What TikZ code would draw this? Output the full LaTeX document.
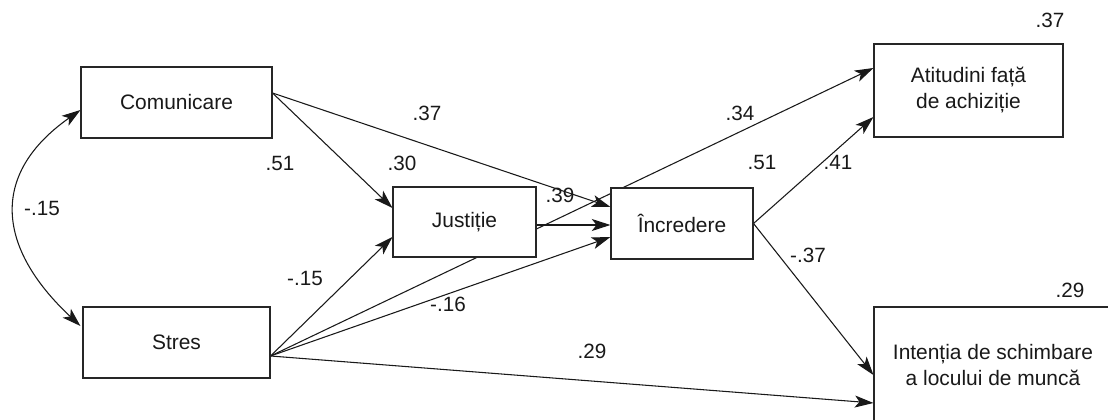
\documentclass[tikz,border=0pt]{standalone}
\usepackage{fontspec}
\setmainfont{Liberation Sans}
\usetikzlibrary{arrows.meta,calc,backgrounds}
\begin{document}
\begin{tikzpicture}[x=0.75pt,y=-0.75pt,
  box/.style={draw=black!85,line width=0.8pt,fill=white,inner sep=0pt,align=center,
    text=black!90,font=\fontsize{15.7}{19.5}\selectfont},
  lab/.style={inner sep=0pt,text=black!90,font=\fontsize{15.5}{18}\selectfont},
  tip/.style={Stealth[length=14pt,width=9pt,inset=3.5pt]},
  arr/.style={draw=black!90,line width=0.8pt,-{Stealth[length=14pt,width=9pt,inset=3.5pt]}},
  dbl/.style={draw=black!90,line width=0.8pt,{Stealth[length=14pt,width=9pt,inset=3.5pt]}-{Stealth[length=14pt,width=9pt,inset=3.5pt]}}]
\useasboundingbox (0,0) rectangle (1108,420);
\clip (0,0) rectangle (1108,420);
\node[box,minimum width=143.25pt,minimum height=53.25pt] (com) at (176.5,102.5) {Comunicare};
\node[box,minimum width=140.25pt,minimum height=53.25pt] (stres) at (176.5,342.5) {Stres};
\node[box,minimum width=107.25pt,minimum height=52.5pt] (jus) at (464.5,222) {Justiție};
\node[box,minimum width=106.5pt,minimum height=53.25pt] (inc) at (682,223.5) {Încredere};
\node[box,minimum width=141.75pt,minimum height=69.75pt] (atit) at (968.5,90.5) {Atitudini față\\de achiziție};
\node[box,minimum width=178.5pt,minimum height=87pt] (intn) at (993,365) {Intenția de schimbare\\a locului de muncă};
\begin{scope}[on background layer]
\coordinate (cs) at ($(com.east)+(0,-9.5)$);
\coordinate (ss) at ($(stres.east)+(0,13.5)$);
\draw[arr] (cs) -- ($(jus.west)+(0,-14)$);
\draw[arr] (cs) -- ($(inc.west)+(0,-16.5)$);
\draw[arr] ($(jus.east)+(0,3)$) -- ($(inc.west)+(0,1.5)$);
\draw[arr] (ss) -- ($(jus.west)+(0,15)$);
\draw[arr] (ss) -- ($(inc.west)+(0,13.5)$);
\draw[arr] (ss) -- ($(atit.west)+(0,-22.5)$);
\draw[arr] (ss) -- ($(intn.west)+(0,38)$);
\draw[arr] (inc.east) -- ($(atit.west)+(0,26.5)$);
\draw[arr] (inc.east) -- ($(intn.west)+(0,10)$);
\draw[dbl] ($(com.west)+(0,7.5)$) .. controls (-12,175) and (-2,249) .. ($(stres.west)+(-2,-16.5)$);
\end{scope}
\node[lab] (l1) at (1050,20) {.37};
\node[lab] (l2) at (1070,290) {.29};
\node[lab] (l3) at (427,113) {.37};
\node[lab] (l4) at (280,163) {.51};
\node[lab] (l5) at (402,163) {.30};
\node[lab] (l6) at (560,195) {.39};
\node[lab] (l7) at (42,208) {-.15};
\node[lab] (l8) at (305,278) {-.15};
\node[lab] (l9) at (448,304) {-.16};
\node[lab] (l10) at (592,351) {.29};
\node[lab] (l11) at (740,113) {.34};
\node[lab] (l12) at (762,162) {.51};
\node[lab] (l13) at (838,162) {.41};
\node[lab] (l14) at (808,255) {-.37};
\end{tikzpicture}
\end{document}
